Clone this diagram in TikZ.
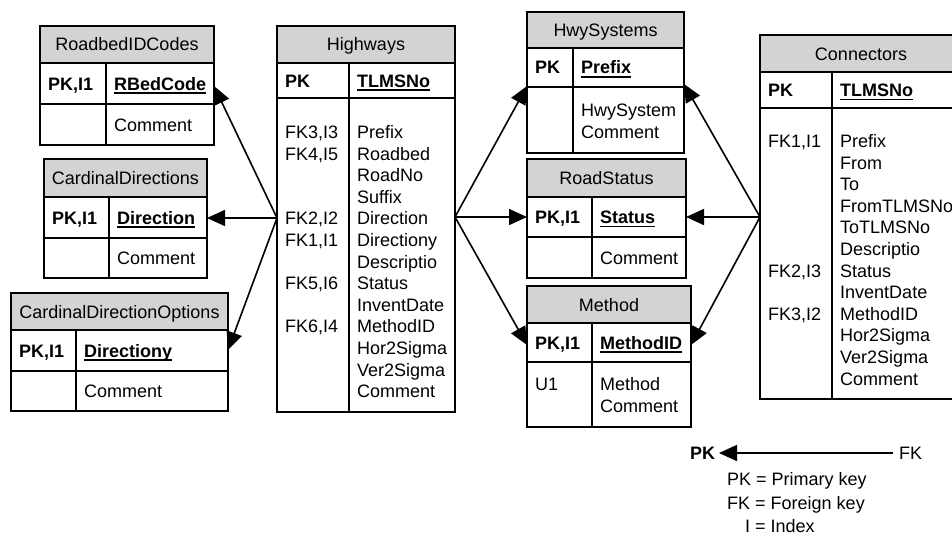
\documentclass[tikz,border=0pt]{standalone}
\usepackage{fontspec}
\setmainfont{Liberation Sans}
\usetikzlibrary{arrows.meta}
\definecolor{hdrgray}{RGB}{211,211,211}
\newcommand\myul[1]{\setbox0\hbox{#1}\rlap{\rule[-3.5pt]{\wd0}{1.5pt}}\box0}
\newcommand\ertable[7]{%
  \fill[hdrgray] (#1,#4) rectangle (#2,#5);
  \draw[tblline] (#1,#4) rectangle (#2,#7) (#1,#5) -- (#2,#5) (#1,#6) -- (#2,#6) (#3,#5) -- (#3,#7);
}
\begin{document}
\begin{tikzpicture}[x=1pt,y=-1pt,
  every node/.style={inner sep=0pt, font=\fontsize{18}{21.6}\selectfont},
  tblline/.style={draw=black, line width=1.6pt},
  hd/.style={anchor=base},
  tx/.style={anchor=base west},
  kb/.style={anchor=base west, font=\fontsize{18}{21.6}\selectfont\bfseries},
  conn/.style={line width=1.6pt, -{Triangle[length=18pt,width=16pt]}}]
\useasboundingbox (0,0) rectangle (952,535);
\clip (0,0) rectangle (952,535);

% ---------- RoadbedIDCodes
\ertable{40}{214}{106}{26}{63}{104}{145}
\node[hd] (rbcH) at (127,51) {RoadbedIDCodes};
\node[kb] (rbcK) at (48,90) {PK,I1};
\node[kb] (rbcP) at (114,90) {\myul{RBedCode}};
\node[tx] (rbcC) at (114,131) {Comment};

% ---------- CardinalDirections
\ertable{44}{207}{109}{159}{197}{238}{278}
\node[hd] (cdH) at (125.5,184.5) {CardinalDirections};
\node[kb] (cdK) at (52,224) {PK,I1};
\node[kb] (cdP) at (117,224) {\myul{Direction}};
\node[tx] (cdC) at (117,264.5) {Comment};

% ---------- CardinalDirectionOptions
\ertable{11}{228}{76}{293}{330}{371}{411}
\node[hd] (cdoH) at (119.5,318) {CardinalDirectionOptions};
\node[kb] (cdoK) at (19,357) {PK,I1};
\node[kb] (cdoP) at (84,357) {\myul{Directiony}};
\node[tx] (cdoC) at (84,397.5) {Comment};

% ---------- Highways
\ertable{277}{455}{349}{26}{63}{98}{412}
\node[hd] (hwH) at (366,51) {Highways};
\node[kb] (hwK) at (285,87) {PK};
\node[kb] (hwP) at (357,87) {\myul{TLMSNo}};
\foreach \t [count=\i from 0] in {Prefix,Roadbed,RoadNo,Suffix,Direction,Directiony,Descriptio,Status,InventDate,MethodID,Hor2Sigma,Ver2Sigma,Comment}
  \node[tx] (hwf\i) at (357,{138.5+21.6*\i}) {\t};
\node[tx] (hwk0) at (285,{138.5+21.6*0}) {FK3,I3};
\node[tx] (hwk1) at (285,{138.5+21.6*1}) {FK4,I5};
\node[tx] (hwk4) at (285,{138.5+21.6*4}) {FK2,I2};
\node[tx] (hwk5) at (285,{138.5+21.6*5}) {FK1,I1};
\node[tx] (hwk7) at (285,{138.5+21.6*7}) {FK5,I6};
\node[tx] (hwk9) at (285,{138.5+21.6*9}) {FK6,I4};

% ---------- HwySystems
\ertable{527}{684}{573}{12}{48}{87}{153}
\node[hd] (hsH) at (605.5,36.5) {HwySystems};
\node[kb] (hsK) at (535,74) {PK};
\node[kb] (hsP) at (581,74) {\myul{Prefix}};
\node[tx] (hsC1) at (581,116.5) {HwySystem};
\node[tx] (hsC2) at (581,138.1) {Comment};

% ---------- RoadStatus
\ertable{527}{686}{592}{159}{197}{237}{278}
\node[hd] (rsH) at (606.5,184.5) {RoadStatus};
\node[kb] (rsK) at (535,223.5) {PK,I1};
\node[kb] (rsP) at (600,223.5) {\myul{Status}};
\node[tx] (rsC) at (600,264) {Comment};

% ---------- Method
\ertable{527}{691}{592}{286}{323}{362}{427}
\node[hd] (meH) at (609,311) {Method};
\node[kb] (meK) at (535,349) {PK,I1};
\node[kb] (meP) at (600,349) {\myul{MethodID}};
\node[tx] (meU) at (535,390.5) {U1};
\node[tx] (meC1) at (600,390.5) {Method};
\node[tx] (meC2) at (600,412.1) {Comment};

% ---------- Connectors
\ertable{760}{962}{832}{35}{72}{108}{399}
\node[hd] (cnH) at (861,60) {Connectors};
\node[kb] (cnK) at (768,96.5) {PK};
\node[kb] (cnP) at (840,96.5) {\myul{TLMSNo}};
\foreach \t [count=\i from 0] in {Prefix,From,To,FromTLMSNo,ToTLMSNo,Descriptio,Status,InventDate,MethodID,Hor2Sigma,Ver2Sigma,Comment}
  \node[tx] (cnf\i) at (840,{147.5+21.6*\i}) {\t};
\node[tx] (cnk0) at (768,{147.5+21.6*0}) {FK1,I1};
\node[tx] (cnk6) at (768,{147.5+21.6*6}) {FK2,I3};
\node[tx] (cnk8) at (768,{147.5+21.6*8}) {FK3,I2};

% ---------- connector end points
\coordinate (hwL) at (277,218);
\coordinate (hwR) at (455,217);
\coordinate (cnL) at (760,217);
\coordinate (rbcT) at (214,86);
\coordinate (cdT) at (207,218);
\coordinate (cdoT) at (228,350);
\coordinate (hsTL) at (527,86);
\coordinate (hsTR) at (684,84);
\coordinate (rsTL) at (527,217);
\coordinate (rsTR) at (686,217);
\coordinate (meTL) at (527,345);
\coordinate (meTR) at (691,345);

\draw[conn] (hwL) -- (rbcT);
\draw[conn] (hwL) -- (cdT);
\draw[conn] (hwL) -- (cdoT);
\draw[conn] (hwR) -- (hsTL);
\draw[conn] (hwR) -- (rsTL);
\draw[conn] (hwR) -- (meTL);
\draw[conn] (cnL) -- (hsTR);
\draw[conn] (cnL) -- (rsTR);
\draw[conn] (cnL) -- (meTR);

% ---------- legend
\node[kb] (lgPK) at (690,459.5) {PK};
\node[tx] (lgFK) at (899,459.5) {FK};
\coordinate (lgA) at (893,453);
\coordinate (lgB) at (719,453);
\draw[conn] (lgA) -- (lgB);
\node[tx] (lg1) at (727,485.5) {PK = Primary key};
\node[tx] (lg2) at (727,509.5) {FK = Foreign key};
\node[tx] (lg3) at (745,532) {I = Index};
\end{tikzpicture}
\end{document}
